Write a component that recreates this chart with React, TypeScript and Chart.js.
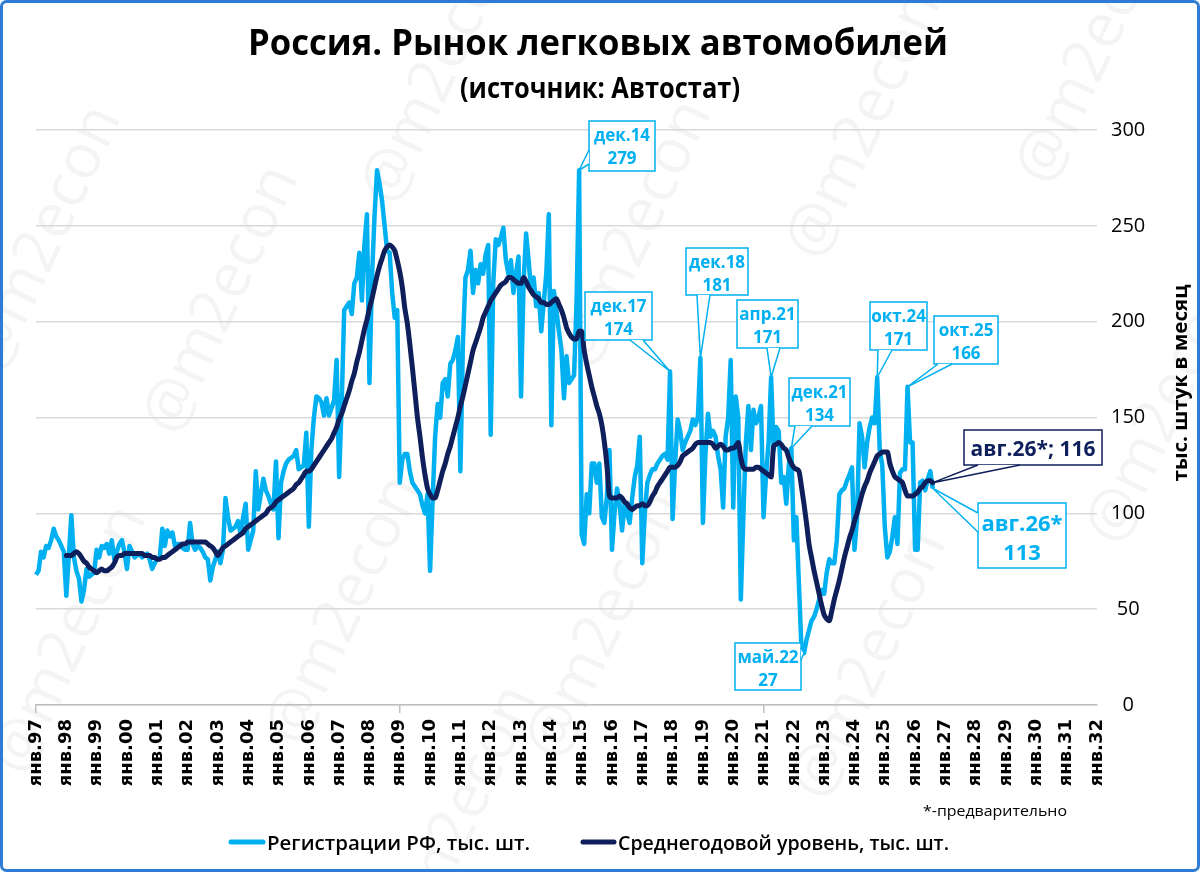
import { useEffect, useRef } from "react";
import { Chart, registerables } from "chart.js";

Chart.register(...registerables);

const MONTH_NAMES = ["янв", "фев", "мар", "апр", "май", "июн", "июл", "авг", "сен", "окт", "ноя", "дек"];
const FIRST_YEAR = 1997;
const LAST_TICK_YEAR = 2032;

// monthly registrations, thousands
const reg1997 = [68, 70, 80, 77, 83, 82, 86, 92, 88, 86, 83, 80];
const reg1998 = [57, 78, 99, 77, 70, 66, 54, 60, 71, 67, 68, 69];
const reg1999 = [81, 77, 83, 82, 84, 79, 86, 76, 80, 84, 86, 80];
const reg2000 = [71, 83, 80, 77, 78, 79, 77, 78, 79, 76, 71, 74];
const reg2001 = [76, 77, 92, 83, 91, 88, 90, 83, 84, 84, 82, 81];
const reg2002 = [81, 95, 84, 81, 83, 82, 80, 77, 76, 65, 72, 76];
const reg2003 = [80, 74, 81, 108, 98, 91, 92, 93, 96, 89, 98, 105];
const reg2004 = [81, 86, 91, 122, 102, 110, 118, 112, 109, 105, 102, 127];
const reg2005 = [87, 116, 122, 126, 128, 129, 130, 133, 123, 124, 125, 142];
const reg2006 = [93, 133, 150, 161, 160, 158, 151, 160, 151, 155, 159, 180];
const reg2007 = [119, 157, 206, 208, 210, 204, 220, 223, 236, 211, 240, 256];
const reg2008 = [168, 223, 255, 279, 272, 263, 250, 237, 236, 215, 202, 206];
const reg2009 = [116, 128, 131, 131, 122, 116, 114, 112, 110, 104, 100, 110];
const reg2010 = [70, 107, 140, 157, 150, 168, 170, 161, 178, 180, 185, 192];
const reg2011 = [122, 189, 223, 227, 237, 215, 227, 220, 230, 225, 235, 240];
const reg2012 = [141, 220, 243, 240, 244, 249, 232, 225, 232, 215, 225, 234];
const reg2013 = [161, 220, 246, 232, 216, 223, 208, 215, 195, 210, 225, 256];
const reg2014 = [146, 216, 206, 195, 185, 160, 182, 168, 170, 172, 211, 279];
const reg2015 = [89, 84, 110, 100, 126, 126, 116, 126, 98, 95, 109, 133];
const reg2016 = [81, 100, 113, 105, 91, 105, 100, 95, 108, 119, 125, 140];
const reg2017 = [74, 100, 116, 120, 123, 123, 126, 128, 130, 131, 128, 174];
const reg2018 = [97, 126, 149, 143, 133, 137, 140, 143, 149, 146, 150, 181];
const reg2019 = [95, 131, 152, 140, 143, 140, 130, 123, 103, 140, 150, 180];
const reg2020 = [103, 161, 150, 55, 98, 137, 156, 133, 154, 147, 150, 156];
const reg2021 = [98, 120, 137, 171, 133, 145, 143, 116, 119, 105, 125, 134];
const reg2022 = [86, 98, 63, 30, 27, 34, 39, 44, 46, 50, 55, 60];
const reg2023 = [58, 69, 76, 74, 74, 86, 110, 112, 113, 117, 120, 124];
const reg2024 = [81, 97, 147, 140, 124, 137, 145, 150, 147, 171, 133, 125];
const reg2025 = [93, 77, 80, 88, 98, 84, 121, 123, 123, 166, 137, 137];
const reg2026 = [81, 81, 116, 117, 112, 118, 122, 113];

// 12-month average level, thousands
const avg1997 = [null, null, null, null, null, null, null, null, null, null, null, null];
const avg1998 = [78, 78, 78, 79, 80, 79, 77, 75, 74, 72, 71, 70];
const avg1999 = [69, 70, 71, 70, 70, 71, 72, 74, 77, 78, 78, 79];
const avg2000 = [79, 79, 79, 79, 79, 79, 79, 78, 78, 78, 77, 77];
const avg2001 = [76, 76, 77, 77, 78, 79, 80, 81, 82, 83, 84, 84];
const avg2002 = [85, 85, 85, 85, 85, 85, 85, 85, 84, 83, 82, 80];
const avg2003 = [78, 80, 82, 83, 84, 85, 86, 87, 88, 89, 90, 92];
const avg2004 = [93, 94, 95, 96, 97, 98, 99, 100, 102, 103, 104, 106];
const avg2005 = [107, 108, 109, 110, 111, 112, 113, 115, 116, 118, 120, 122];
const avg2006 = [122, 123, 125, 127, 129, 131, 133, 135, 137, 139, 142, 145];
const avg2007 = [149, 152, 156, 160, 164, 169, 173, 179, 184, 190, 196, 201];
const avg2008 = [207, 212, 218, 224, 229, 233, 237, 239, 240, 239, 237, 232];
const avg2009 = [226, 218, 207, 199, 188, 176, 163, 150, 140, 129, 120, 113];
const avg2010 = [110, 108, 108, 112, 117, 122, 126, 131, 135, 140, 145, 150];
const avg2011 = [156, 161, 167, 173, 179, 185, 189, 193, 197, 202, 205, 208];
const avg2012 = [211, 213, 215, 217, 219, 220, 221, 223, 223, 222, 221, 220];
const avg2013 = [220, 223, 221, 218, 216, 214, 213, 212, 210, 210, 209, 209];
const avg2014 = [210, 211, 212, 209, 206, 202, 197, 194, 192, 191, 191, 195];
const avg2015 = [195, 185, 178, 172, 166, 161, 156, 152, 146, 137, 125, 109];
const avg2016 = [108, 108, 108, 109, 108, 106, 105, 103, 102, 103, 104, 104];
const avg2017 = [105, 104, 104, 106, 109, 111, 114, 116, 118, 120, 122, 124];
const avg2018 = [124, 124, 125, 127, 130, 131, 132, 133, 134, 136, 137, 137];
const avg2019 = [137, 137, 137, 137, 136, 134, 135, 136, 135, 133, 133, 134];
const avg2020 = [134, 135, 137, 129, 124, 123, 123, 123, 123, 124, 124, 123];
const avg2021 = [122, 121, 120, 119, 135, 136, 137, 136, 134, 133, 129, 126];
const avg2022 = [124, 123, 122, 114, 105, 95, 84, 77, 70, 64, 58, 52];
const avg2023 = [47, 45, 44, 49, 55, 60, 65, 71, 77, 82, 87, 91];
const avg2024 = [96, 100, 105, 110, 114, 117, 121, 124, 127, 130, 131, 132];
const avg2025 = [132, 132, 126, 122, 119, 118, 117, 116, 112, 109, 109, 109];
const avg2026 = [110, 111, 113, 114, 116, 117, 117, 116];

const registrations = [
    ...reg1997, ...reg1998, ...reg1999, ...reg2000, ...reg2001, ...reg2002, ...reg2003,
    ...reg2004, ...reg2005, ...reg2006, ...reg2007, ...reg2008, ...reg2009, ...reg2010,
    ...reg2011, ...reg2012, ...reg2013, ...reg2014, ...reg2015, ...reg2016, ...reg2017,
    ...reg2018, ...reg2019, ...reg2020, ...reg2021, ...reg2022, ...reg2023, ...reg2024,
    ...reg2025, ...reg2026,
];

const averages = [
    ...avg1997, ...avg1998, ...avg1999, ...avg2000, ...avg2001, ...avg2002, ...avg2003,
    ...avg2004, ...avg2005, ...avg2006, ...avg2007, ...avg2008, ...avg2009, ...avg2010,
    ...avg2011, ...avg2012, ...avg2013, ...avg2014, ...avg2015, ...avg2016, ...avg2017,
    ...avg2018, ...avg2019, ...avg2020, ...avg2021, ...avg2022, ...avg2023, ...avg2024,
    ...avg2025, ...avg2026,
];

// one category per month, янв.97 .. янв.32
const monthLabels: string[] = [];
for (let yr = FIRST_YEAR; yr < LAST_TICK_YEAR; yr++) {
    for (let m = 0; m < 12; m++) {
        monthLabels.push(`${MONTH_NAMES[m]}.${String(yr % 100).padStart(2, "0")}`);
    }
}
monthLabels.push(`${MONTH_NAMES[0]}.${String(LAST_TICK_YEAR % 100).padStart(2, "0")}`);

const TITLE = "Россия. Рынок легковых автомобилей";
const SUBTITLE = "(источник: Автостат)";
const Y_TITLE = "тыс. штук в месяц";
const REG_LABEL = "Регистрации РФ, тыс. шт.";
const AVG_LABEL = "Среднегодовой уровень, тыс. шт.";
const FOOTNOTE = "*-предварительно";

const LIGHT = "#00b0f0";
const DARK = "#0e1f5b";

// callout boxes: month index, series, box [x, y, w, h], wedge base points
type Callout = {
    idx: number;
    series: "reg" | "avg";
    box: [number, number, number, number];
    base: [[number, number], [number, number]];
    big?: boolean;
};

const CALLOUTS: Callout[] = [
    { idx: 215, series: "reg", box: [589, 121, 66, 50], base: [[589, 150], [589, 164]] },
    { idx: 251, series: "reg", box: [585, 292, 67, 48], base: [[630, 340], [643, 340]] },
    { idx: 263, series: "reg", box: [686, 248, 62, 47], base: [[697, 295], [710, 295]] },
    { idx: 291, series: "reg", box: [737, 300, 61, 48], base: [[767, 348], [780, 348]] },
    { idx: 299, series: "reg", box: [789, 378, 61, 48], base: [[795, 426], [812, 426]] },
    { idx: 304, series: "reg", box: [735, 643, 66, 47], base: [[801, 648], [801, 660]] },
    { idx: 333, series: "reg", box: [870, 302, 57, 48], base: [[878, 350], [892, 350]] },
    { idx: 345, series: "reg", box: [934, 316, 64, 48], base: [[938, 364], [952, 364]] },
    { idx: 355, series: "avg", box: [964, 430, 138, 35], base: [[978, 465], [1020, 465]] },
    { idx: 355, series: "reg", box: [978, 503, 88, 65], base: [[978, 513], [978, 532]], big: true },
];

const WATERMARKS: [number, number][] = [
    [45, 240], [222, 300], [440, 70], [635, 235], [865, 125], [1095, 50],
    [70, 640], [345, 610], [605, 625], [870, 665], [1165, 410], [460, 820],
];

function fitText(
    ctx: CanvasRenderingContext2D,
    text: string,
    x: number,
    y: number,
    font: string,
    width: number,
    align: CanvasTextAlign,
    color: string
) {
    ctx.save();
    ctx.font = font;
    const w = ctx.measureText(text).width;
    ctx.translate(x, y);
    ctx.scale(width / w, 1);
    ctx.textAlign = align;
    ctx.textBaseline = "alphabetic";
    ctx.fillStyle = color;
    ctx.fillText(text, 0, 0);
    ctx.restore();
}

const decorPlugin = {
    id: "decor",
    beforeDraw(chart: Chart) {
        const { ctx, width, height } = chart;
        ctx.save();
        ctx.fillStyle = "#ffffff";
        ctx.fillRect(0, 0, width, height);
        ctx.font = "62px 'Open Sans'";
        ctx.fillStyle = "rgba(0,0,0,0.045)";
        ctx.textAlign = "center";
        ctx.textBaseline = "middle";
        for (const [wx, wy] of WATERMARKS) {
            ctx.save();
            ctx.translate(wx, wy);
            ctx.rotate((-65 * Math.PI) / 180);
            ctx.fillText("@m2econ", 0, 0);
            ctx.restore();
        }
        ctx.restore();
    },
    afterDraw(chart: Chart) {
        const { ctx, width, height } = chart;
        const xs = chart.scales.x;
        const ys = chart.scales.y;

        fitText(ctx, TITLE, 598, 55, "bold 36px 'Open Sans'", 700, "center", "#000");
        fitText(ctx, SUBTITLE, 600, 98, "bold 28px 'Open Sans'", 280, "center", "#000");

        ctx.save();
        ctx.translate(1187, 383);
        ctx.rotate(-Math.PI / 2);
        fitText(ctx, Y_TITLE, 0, 0, "bold 20px 'Open Sans'", 197, "center", "#000");
        ctx.restore();

        // legend
        ctx.save();
        ctx.lineCap = "round";
        ctx.lineWidth = 5;
        ctx.strokeStyle = LIGHT;
        ctx.beginPath();
        ctx.moveTo(231, 842);
        ctx.lineTo(263, 842);
        ctx.stroke();
        ctx.strokeStyle = DARK;
        ctx.beginPath();
        ctx.moveTo(583, 842);
        ctx.lineTo(614, 842);
        ctx.stroke();
        ctx.restore();
        fitText(ctx, REG_LABEL, 267, 850, "600 19px 'Open Sans'", 263, "left", "#000");
        fitText(ctx, AVG_LABEL, 618, 850, "600 19px 'Open Sans'", 331, "left", "#000");
        fitText(ctx, FOOTNOTE, 923, 816, "15px 'Open Sans'", 144, "left", "#000");

        // callouts
        for (const c of CALLOUTS) {
            const values = c.series === "reg" ? registrations : averages;
            const value = values[c.idx] as number;
            const tipX = xs.getPixelForValue(c.idx);
            const tipY = ys.getPixelForValue(value);
            const color = c.series === "reg" ? LIGHT : DARK;
            const [bx, by, bw, bh] = c.box;
            ctx.save();
            ctx.lineWidth = 1.5;
            ctx.strokeStyle = color;
            ctx.fillStyle = "#ffffff";
            ctx.fillRect(bx, by, bw, bh);
            ctx.strokeRect(bx, by, bw, bh);
            ctx.beginPath();
            ctx.moveTo(c.base[0][0], c.base[0][1]);
            ctx.lineTo(tipX, tipY);
            ctx.lineTo(c.base[1][0], c.base[1][1]);
            ctx.closePath();
            ctx.fill();
            ctx.beginPath();
            ctx.moveTo(c.base[0][0], c.base[0][1]);
            ctx.lineTo(tipX, tipY);
            ctx.lineTo(c.base[1][0], c.base[1][1]);
            ctx.stroke();
            ctx.fillStyle = color;
            ctx.textAlign = "center";
            ctx.textBaseline = "alphabetic";
            const cx = bx + bw / 2;
            if (c.series === "avg") {
                ctx.font = "bold 21px 'Open Sans'";
                ctx.fillText(`${monthLabels[c.idx]}*; ${value}`, cx, by + 26);
            } else if (c.big) {
                ctx.font = "bold 22px 'Open Sans'";
                ctx.fillText(`${monthLabels[c.idx]}*`, cx, by + 28);
                ctx.fillText(`${value}`, cx, by + 57);
            } else {
                ctx.font = "bold 17px 'Open Sans'";
                ctx.fillText(monthLabels[c.idx], cx, by + 20);
                ctx.fillText(`${value}`, cx, by + 43);
            }
            ctx.restore();
        }

        // frame
        ctx.save();
        ctx.strokeStyle = "#2d7bd6";
        ctx.lineWidth = 3;
        ctx.beginPath();
        ctx.roundRect(1.5, 1.5, width - 3, height - 3, 5);
        ctx.stroke();
        ctx.restore();
    },
};

export default function App() {
    const canvasRef = useRef<HTMLCanvasElement>(null);
    const chartRef = useRef<Chart | null>(null);

    useEffect(() => {
        if (!canvasRef.current) return;
        if (chartRef.current) chartRef.current.destroy();

        chartRef.current = new Chart(canvasRef.current, {
            type: "line",
            data: {
                labels: monthLabels,
                datasets: [
                    {
                        label: REG_LABEL,
                        data: registrations,
                        borderColor: LIGHT,
                        borderWidth: 4.5,
                        pointRadius: 0,
                        tension: 0,
                        borderJoinStyle: "round",
                        order: 2,
                    },
                    {
                        label: AVG_LABEL,
                        data: averages,
                        borderColor: DARK,
                        borderWidth: 5,
                        pointRadius: 0,
                        cubicInterpolationMode: "monotone",
                        borderJoinStyle: "round",
                        borderCapStyle: "round",
                        order: 1,
                    },
                ],
            },
            options: {
                animation: false,
                responsive: true,
                maintainAspectRatio: false,
                events: [],
                layout: { padding: { left: 36, top: 130, right: 23, bottom: 0 } },
                plugins: {
                    legend: { display: false },
                    tooltip: { enabled: false },
                },
                scales: {
                    x: {
                        type: "category",
                        offset: false,
                        grid: {
                            drawOnChartArea: false,
                            drawTicks: true,
                            tickLength: 8,
                            lineWidth: 1.5,
                            color: (ctx) => (ctx.index % 12 === 0 ? "#bfbfbf" : "rgba(0,0,0,0)"),
                        },
                        border: { display: true, color: "#bfbfbf", width: 1.5 },
                        ticks: {
                            autoSkip: false,
                            maxRotation: 90,
                            minRotation: 90,
                            padding: 6,
                            color: "#000",
                            font: { family: "'DejaVu Sans'", size: 18, weight: "bold" },
                            callback: (_v, i) => (i % 12 === 0 ? monthLabels[i] : null),
                        },
                        afterFit: (scale) => {
                            scale.height = 167;
                        },
                    },
                    y: {
                        position: "right",
                        min: 0,
                        max: 300,
                        grid: { color: "#d9d9d9", lineWidth: 1.5, drawTicks: false },
                        border: { display: false },
                        ticks: {
                            stepSize: 50,
                            padding: 14,
                            crossAlign: "center",
                            color: "#000",
                            font: { family: "'Open Sans'", size: 20 },
                        },
                        afterFit: (scale) => {
                            scale.width = 80;
                        },
                    },
                },
            },
            plugins: [decorPlugin],
        });

        return () => {
            chartRef.current?.destroy();
            chartRef.current = null;
        };
    }, []);

    return (
        <div style={{ position: "relative", width: "1200px", height: "872px" }}>
            <style>{"body{margin:0;}"}</style>
            <canvas
                ref={canvasRef}
                role="img"
                aria-label="Россия. Рынок легковых автомобилей: регистрации и среднегодовой уровень"
            />
        </div>
    );
}
